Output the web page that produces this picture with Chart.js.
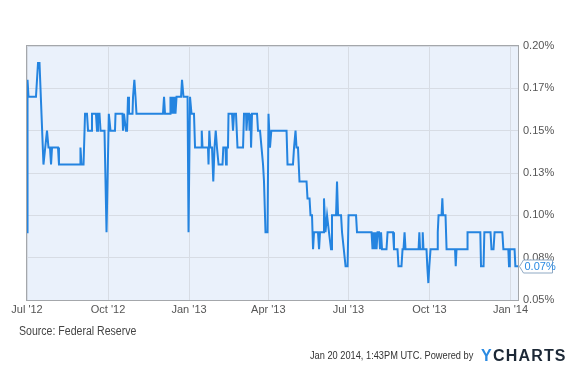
<!DOCTYPE html>
<html>
<head>
<meta charset="utf-8">
<script src="https://cdn.jsdelivr.net/npm/chart.js@4.4.1/dist/chart.umd.min.js"></script>
<style>
  body { margin: 0; background: #fff; }
  #wrap { position: relative; width: 585px; height: 380px; font-family: 'Liberation Sans', Arial, sans-serif; }
  #chart { position: absolute; left: 0; top: 0; }
  .note { position: absolute; white-space: nowrap; transform-origin: left center; }
  #source { left: 19px; top: 324px; font-size: 12px; color: #444; transform: scaleX(0.88); }
  #stamp { left: 310px; top: 349px; font-size: 11px; color: #333; transform: scaleX(0.84); }
  #brand { left: 481px; top: 347px; font-size: 16px; font-weight: bold; letter-spacing: 1.2px; color: #1c2836; }
  #brand span { color: #2a8ae2; }
</style>
</head>
<body>
<div id="wrap">
  <canvas id="chart" width="585" height="380"></canvas>
  <div class="note" id="source">Source: Federal Reserve</div>
  <div class="note" id="stamp">Jan 20 2014, 1:43PM UTC. Powered by</div>
  <div class="note" id="brand"><span>Y</span>CHARTS</div>
</div>
<script>
// x = days since Jul 1 2012, y = rate in %
const rateDays = [
    0, 0.6, 1.7, 10.2, 12.5, 14.2, 18.7, 22.7, 24.4, 26.1, 27.3, 28.4, 35.2, 36.3,
    60.2, 60.7, 61.9, 64.2, 65.9, 68.1, 69.3, 72.7, 73.8, 78.3, 79.5, 80.6, 82.3, 83.5,
    88.0, 90.3, 92.9, 94.8, 99.9, 100.5, 108.4, 109.0, 110.1, 112.4, 113.6, 114.7, 115.8,
    119.8, 120.4, 121.9, 123.2, 124.3, 154.4, 155.6, 156.7, 162.4, 162.9, 164.1, 165.2,
    166.4, 167.5, 168.6, 169.8, 174.9, 176.0, 177.7, 182.3, 183.4, 185.1, 186.8, 189.6,
    190.8, 197.6, 198.4, 199.3, 205.5, 206.1, 207.0, 208.1, 210.1, 211.5, 212.9, 214.3,
    215.7, 217.5, 222.0, 222.9, 225.4, 226.0, 226.8, 228.2, 228.8, 232.8, 233.9, 235.1,
    237.3, 239.0, 245.3, 246.4, 248.7, 249.2, 250.4, 252.1, 252.7, 253.8, 254.4, 255.5,
    261.2, 262.3, 264.6, 266.3, 268.0, 269.1, 270.8, 273.1, 274.2, 275.9, 277.4, 294.7,
    295.8, 302.0, 303.2, 304.9, 306.0, 307.7, 309.4, 317.4, 318.5, 320.8, 321.9, 323.6,
    324.8, 325.9, 330.4, 331.6, 332.7, 336.1, 337.2, 338.9, 340.7, 342.9, 345.2, 346.3,
    350.9, 352.0, 353.2, 356.6, 357.7, 361.7, 364.0, 365.1, 373.6, 374.7, 391.2, 392.3,
    393.5, 394.6, 395.7, 396.9, 398.0, 399.7, 400.8, 402.0, 403.1, 408.2, 409.4, 415.6,
    416.7, 420.7, 421.8, 425.2, 426.4, 427.5, 428.7, 429.8, 444.6, 445.5, 446.3, 448.5,
    449.3, 450.2, 453.6, 454.5, 455.7, 456.8, 458.2, 465.6, 466.4, 467.3, 470.7, 471.6,
    472.4, 475.2, 476.4, 486.0, 486.8, 487.7, 499.6, 500.2, 514.7, 515.5, 518.4, 519.3,
    526.3, 527.4, 529.7, 530.9, 539.7, 540.9, 546.5, 547.3, 548.2, 553.6, 554.5, 557.5
];
const rateValues = [
    0.09, 0.18, 0.17, 0.17, 0.19, 0.19, 0.13, 0.15, 0.14, 0.14, 0.13, 0.14, 0.14, 0.13,
    0.13, 0.14, 0.13, 0.13, 0.16, 0.16, 0.15, 0.15, 0.16, 0.16, 0.15, 0.16, 0.16, 0.15,
    0.15, 0.09, 0.16, 0.15, 0.15, 0.16, 0.16, 0.15, 0.16, 0.15, 0.15, 0.17, 0.16,
    0.16, 0.17, 0.18, 0.17, 0.16, 0.16, 0.17, 0.16, 0.16, 0.17, 0.16, 0.17,
    0.16, 0.17, 0.16, 0.17, 0.17, 0.18, 0.17, 0.17, 0.09, 0.17, 0.16, 0.16,
    0.14, 0.14, 0.15, 0.14, 0.14, 0.13, 0.15, 0.14, 0.14, 0.12, 0.14, 0.15,
    0.14, 0.13, 0.13, 0.14, 0.14, 0.13, 0.14, 0.14, 0.16, 0.16, 0.15, 0.16,
    0.16, 0.14, 0.14, 0.16, 0.16, 0.15, 0.16, 0.16, 0.15, 0.16, 0.14, 0.16,
    0.16, 0.15, 0.15, 0.14, 0.13, 0.12, 0.09, 0.09, 0.16, 0.14, 0.15, 0.15,
    0.13, 0.13, 0.14, 0.15, 0.14, 0.14, 0.12, 0.12, 0.11, 0.11, 0.10, 0.10,
    0.08, 0.09, 0.09, 0.08, 0.09, 0.09, 0.11, 0.09, 0.10, 0.09, 0.08, 0.10,
    0.10, 0.12, 0.10, 0.10, 0.09, 0.07, 0.07, 0.10, 0.10, 0.09, 0.09, 0.08,
    0.09, 0.08, 0.09, 0.08, 0.09, 0.09, 0.08, 0.09, 0.08, 0.08, 0.09, 0.09,
    0.08, 0.08, 0.07, 0.07, 0.08, 0.08, 0.09, 0.08, 0.08, 0.09, 0.08, 0.08,
    0.09, 0.08, 0.08, 0.07, 0.06, 0.07, 0.08, 0.08, 0.09, 0.10, 0.10, 0.11,
    0.10, 0.10, 0.08, 0.08, 0.07, 0.08, 0.08, 0.09, 0.09, 0.07, 0.07, 0.09,
    0.09, 0.08, 0.08, 0.09, 0.09, 0.08, 0.08, 0.07, 0.08, 0.08, 0.07, 0.07
];

const quarterDays = [0, 92, 184, 274, 365, 457, 549];
const quarterLabels = ["Jul '12", "Oct '12", "Jan '13", "Apr '13", "Jul '13", "Oct '13", "Jan '14"];

const yTickValues = [0.05, 0.075, 0.10, 0.125, 0.15, 0.175, 0.20];
const yTickLabels = ['0.05%', '0.08%', '0.10%', '0.13%', '0.15%', '0.17%', '0.20%'];

const plotBg = '#eaf1fb';
const gridColor = '#d7dce4';
const lineColor = '#2484e0';

// fond + cadre de la zone de tracé
const plotFrame = {
    id: 'plotFrame',
    beforeDraw(chart) {
        const a = chart.chartArea;
        const ctx = chart.ctx;
        ctx.save();
        ctx.fillStyle = plotBg;
        ctx.fillRect(a.left, a.top, a.right - a.left, a.bottom - a.top);
        ctx.restore();
    },
    afterDraw(chart) {
        const a = chart.chartArea;
        const ctx = chart.ctx;
        ctx.save();
        ctx.strokeStyle = '#a4a7ab';
        ctx.lineWidth = 1;
        ctx.strokeRect(a.left - 0.5, a.top - 0.5, a.right - a.left + 1, a.bottom - a.top + 1);
        ctx.restore();
    }
};

// étiquette de la dernière valeur
const lastTag = {
    id: 'lastTag',
    afterDraw(chart) {
        const a = chart.chartArea;
        const ctx = chart.ctx;
        const last = rateValues[rateValues.length - 1];
        const y = Math.round(chart.scales.y.getPixelForValue(last)) + 0.5;
        const x0 = a.right + 1.5;
        const w = 33, h = 13;
        ctx.save();
        ctx.beginPath();
        ctx.moveTo(x0, y);
        ctx.lineTo(x0 + 4, y - h / 2);
        ctx.lineTo(x0 + w, y - h / 2);
        ctx.lineTo(x0 + w, y + h / 2);
        ctx.lineTo(x0 + 4, y + h / 2);
        ctx.closePath();
        ctx.fillStyle = '#ffffff';
        ctx.fill();
        ctx.strokeStyle = '#8fa9c4';
        ctx.lineWidth = 1;
        ctx.stroke();
        ctx.fillStyle = '#2a8ae2';
        ctx.font = '11px "Liberation Sans", Arial, sans-serif';
        ctx.textBaseline = 'middle';
        ctx.fillText(last.toFixed(2) + '%', x0 + 5, y + 0.5);
        ctx.restore();
    }
};

const points = rateDays.map((d, i) => ({ x: d, y: rateValues[i] }));

new Chart(document.getElementById('chart').getContext('2d'), {
    type: 'line',
    data: {
        datasets: [{
            data: points,
            borderColor: lineColor,
            borderWidth: 2,
            pointRadius: 0,
            tension: 0,
            fill: false
        }]
    },
    options: {
        responsive: false,
        animation: false,
        layout: { padding: { left: 27, top: 46, right: 0, bottom: 0 } },
        plugins: {
            legend: { display: false },
            tooltip: { enabled: false }
        },
        scales: {
            x: {
                type: 'linear',
                min: 0,
                max: 557.5,
                afterBuildTicks: s => { s.ticks = quarterDays.map(v => ({ value: v })); },
                afterFit: s => { s.height = 80; },
                ticks: {
                    autoSkip: false,
                    maxRotation: 0,
                    padding: 3,
                    color: '#555',
                    font: { family: "'Liberation Sans', Arial, sans-serif", size: 11 },
                    callback: v => quarterLabels[quarterDays.indexOf(v)]
                },
                grid: { color: gridColor, drawTicks: false },
                border: { display: false }
            },
            y: {
                position: 'right',
                min: 0.05,
                max: 0.20,
                afterBuildTicks: s => { s.ticks = yTickValues.map(v => ({ value: v })); },
                afterFit: s => { s.width = 67; },
                ticks: {
                    padding: 5,
                    color: '#555',
                    font: { family: "'Liberation Sans', Arial, sans-serif", size: 11 },
                    callback: v => yTickLabels[yTickValues.indexOf(v)]
                },
                grid: { color: gridColor, drawTicks: false },
                border: { display: false }
            }
        }
    },
    plugins: [plotFrame, lastTag]
});
</script>
</body>
</html>
